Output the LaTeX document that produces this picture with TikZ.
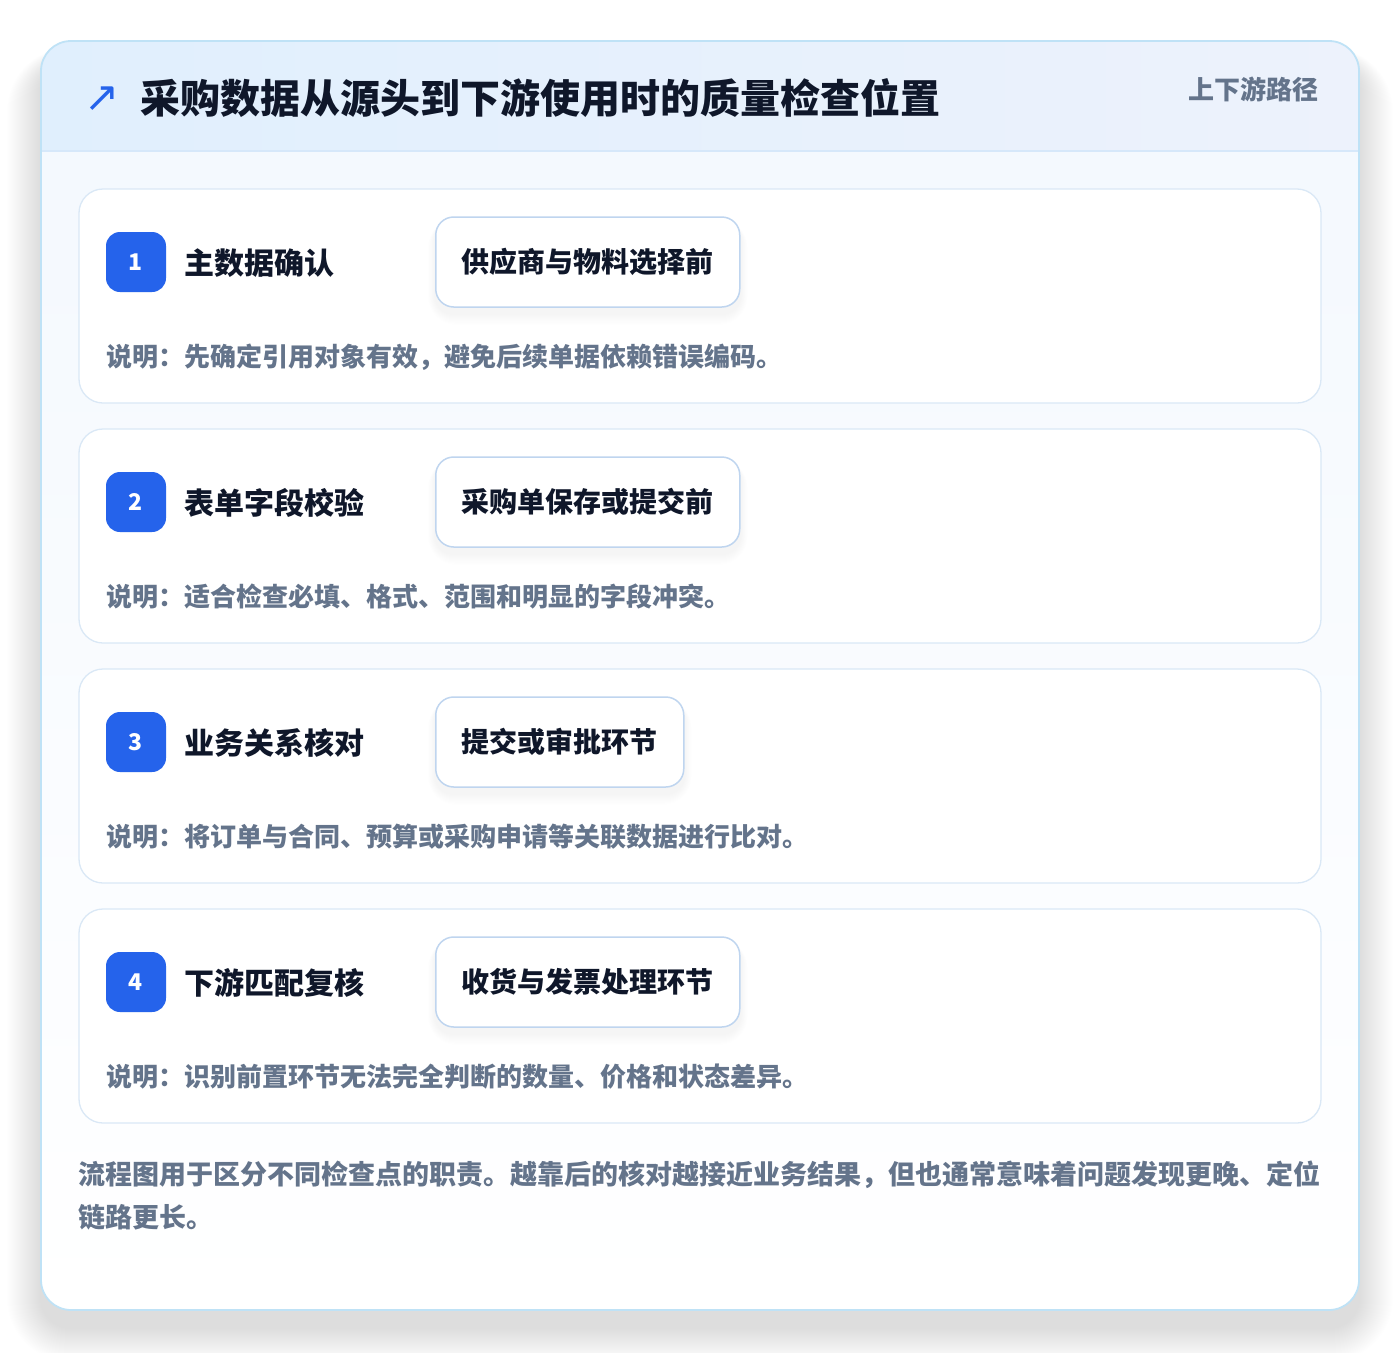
\documentclass[tikz,border=0pt]{standalone}
\usepackage{fontspec}
\setmainfont{Noto Sans CJK SC}
\newfontfamily\symfont{DejaVu Sans}
\definecolor{titleC}{HTML}{0F172A}
\definecolor{grayC}{HTML}{64748B}
\definecolor{blueC}{HTML}{2563EB}
\definecolor{cardB}{HTML}{DAE8F6}
\definecolor{outerB}{HTML}{BFE2F6}
\definecolor{hdrL}{HTML}{E0EFFD}
\definecolor{hdrR}{HTML}{EDF2FC}
\definecolor{hdrLine}{HTML}{D6E8FA}
\definecolor{bodyTop}{HTML}{F3F8FE}
\definecolor{tagB}{HTML}{BFD5EF}
\pgfdeclarelayer{back}
\pgfdeclarelayer{cardl}
\pgfdeclarelayer{shad}
\pgfsetlayers{back,cardl,shad,main}
\tikzset{
  card/.style={fill=white, draw=cardB, line width=1.3pt, rounded corners=24pt},
  badge/.style={fill=blueC, rounded corners=14pt, minimum width=60pt, minimum height=60pt, inner sep=0pt, text=white, font=\fontsize{23}{26}\selectfont\bfseries},
  steptitle/.style={anchor=west, inner sep=0pt, text=titleC, font=\fontsize{30}{36}\selectfont\bfseries},
  tagbox/.style={anchor=west, fill=white, draw=tagB, line width=1.5pt, rounded corners=18pt, inner xsep=26pt, minimum height=90pt, text=titleC, font=\fontsize{28}{34}\selectfont\bfseries},
  desc/.style={anchor=west, inner sep=0pt, text=grayC, font=\fontsize{26}{30}\selectfont\bfseries},
  foot/.style={anchor=west, inner sep=0pt, text=grayC, font=\fontsize{27}{32}\selectfont\bfseries},
}
\begin{document}
\begin{tikzpicture}[x=1pt,y=-1pt]
\begin{pgfonlayer}{back}
\useasboundingbox[fill=white] (0,0) rectangle (1400,1352);
% outer shadow
\foreach \i in {1,...,34} {
  \fill[black, opacity=0.0022] [rounded corners={30+\i}] ({41-\i},{41-\i*0.4+20}) rectangle ({1359+\i},{1310+\i+18});
}
% body
\fill[top color=bodyTop, bottom color=white, rounded corners=30pt] (41,41) rectangle (1359,1310);
\begin{scope}
  \clip[rounded corners=30pt] (41,41) rectangle (1359,1310);
  \fill[left color=hdrL, right color=hdrR] (41,41) rectangle (1359,151);
\end{scope}
\draw[hdrLine, line width=1.5pt] (42,151) -- (1358,151);
\draw[outerB, line width=1.8pt, rounded corners=30pt] (41,41) rectangle (1359,1310);
\end{pgfonlayer}
% header
\node[anchor=center, inner sep=0pt, text=blueC, font=\symfont\fontsize{42}{48}\selectfont] (icon) at (102,99) {↗};
\node[anchor=west, inner sep=0pt, text=titleC, font=\fontsize{40}{48}\selectfont\bfseries] (title) at (140,98) {采购数据从源头到下游使用时的质量检查位置};
\node[anchor=east, inner sep=0pt, text=grayC, font=\fontsize{26}{30}\selectfont\bfseries] (path) at (1319,89) {上下游路径};
% steps
\foreach \n/\y/\t/\g/\d in {
  1/189/主数据确认/供应商与物料选择前/说明：先确定引用对象有效，避免后续单据依赖错误编码。,
  2/429/表单字段校验/采购单保存或提交前/说明：适合检查必填、格式、范围和明显的字段冲突。,
  3/669/业务关系核对/提交或审批环节/说明：将订单与合同、预算或采购申请等关联数据进行比对。,
  4/909/下游匹配复核/收货与发票处理环节/说明：识别前置环节无法完全判断的数量、价格和状态差异。} {
  \begin{pgfonlayer}{cardl}
  \path[card] (79,\y) rectangle (1321,{\y+214});
  \end{pgfonlayer}
  \node[badge] (badge\n) at (136,{\y+73}) {\n};
  \node[steptitle] (st\n) at (184,{\y+74}) {\t};
  \node[tagbox] (tag\n) at (435,{\y+73}) {\g};
  \begin{pgfonlayer}{shad}
  \foreach \k in {1,...,10} {
    \fill[black, opacity=0.005, rounded corners={18+\k}] ([xshift={-\k*0.7pt}, yshift={\k*0.3pt-6pt}]tag\n.north west) rectangle ([xshift={\k*0.7pt}, yshift={-\k*1.1pt-6pt}]tag\n.south east);
  }
  \end{pgfonlayer}
  \node[desc] (desc\n) at (106,{\y+168}) {\d};
}
% footer
\node[foot] (foot1) at (78,1175) {流程图用于区分不同检查点的职责。越靠后的核对越接近业务结果，但也通常意味着问题发现更晚、定位};
\node[foot] (foot2) at (78,1217) {链路更长。};
\end{tikzpicture}
\end{document}
